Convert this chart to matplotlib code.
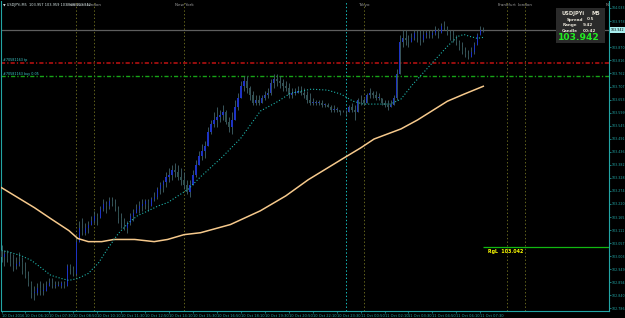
import numpy as np
import pandas as pd
import matplotlib
matplotlib.use("Agg")
import matplotlib.pyplot as plt
from matplotlib.patches import Rectangle

plt.rcParams["font.family"] = ["DejaVu Sans"]
plt.rcParams["lines.scale_dashes"] = False

W, H = 625, 318

SYMBOL = "USDJPYi"
TIMEFRAME = "M5"
HEADER_OHLC = ["103.957", "103.959", "103.938", "103.942"]
SPREAD = "0.5"
RANGE = "9.42"
CANDLE_LEFT = "00:42"

# 10-minute bars, first bar 10 Oct 04:50
FIRST_BAR = "10-10 04:50"
BAR_MIN = 10
first_open = 103.03
highs = [
    103.05, 103.03, 103.03, 103.02, 103.01, 103.00, 103.02, 103.00, 102.98, 102.94,
    102.90, 102.88, 102.89, 102.90, 102.89, 102.90, 102.91, 102.91, 102.90, 102.90,
    102.90, 102.90, 102.97, 102.97, 102.96, 103.08, 103.15, 103.16, 103.14, 103.15,
    103.17, 103.19, 103.18, 103.21, 103.24, 103.23, 103.25, 103.25, 103.24, 103.21,
    103.18, 103.16, 103.15, 103.18, 103.20, 103.22, 103.23, 103.24, 103.24, 103.24,
    103.25, 103.27, 103.29, 103.31, 103.32, 103.35, 103.37, 103.38, 103.39, 103.38,
    103.37, 103.35, 103.32, 103.32, 103.36, 103.40, 103.44, 103.47, 103.48, 103.54,
    103.57, 103.60, 103.62, 103.61, 103.63, 103.61, 103.58, 103.60, 103.65, 103.68,
    103.73, 103.75, 103.75, 103.71, 103.69, 103.67, 103.67, 103.67, 103.69, 103.70,
    103.74, 103.76, 103.76, 103.75, 103.74, 103.73, 103.72, 103.70, 103.70, 103.71,
    103.71, 103.70, 103.69, 103.68, 103.66, 103.65, 103.65, 103.65, 103.64, 103.64,
    103.63, 103.63, 103.62, 103.61, 103.61, 103.61, 103.63, 103.64, 103.63, 103.66,
    103.67, 103.66, 103.68, 103.70, 103.69, 103.69, 103.68, 103.66, 103.65, 103.65,
    103.65, 103.67, 103.78, 103.92, 103.94, 103.94, 103.92, 103.93, 103.94, 103.94,
    103.94, 103.94, 103.94, 103.94, 103.94, 103.96, 103.95, 103.97, 103.98, 103.96,
    103.94, 103.94, 103.92, 103.90, 103.89, 103.87, 103.86, 103.87, 103.89, 103.93,
    103.96, 103.956,
]
lows = [
    102.98, 102.96, 102.98, 102.96, 102.94, 102.95, 102.96, 102.93, 102.91, 102.88,
    102.83, 102.82, 102.84, 102.84, 102.84, 102.86, 102.88, 102.87, 102.87, 102.88,
    102.87, 102.87, 102.89, 102.93, 102.92, 102.92, 103.07, 103.09, 103.09, 103.10,
    103.13, 103.14, 103.13, 103.17, 103.19, 103.18, 103.20, 103.21, 103.19, 103.14,
    103.12, 103.11, 103.10, 103.13, 103.15, 103.18, 103.18, 103.19, 103.20, 103.19,
    103.21, 103.23, 103.24, 103.26, 103.27, 103.29, 103.31, 103.32, 103.33, 103.32,
    103.30, 103.28, 103.26, 103.25, 103.30, 103.33, 103.38, 103.40, 103.41, 103.47,
    103.51, 103.54, 103.54, 103.56, 103.57, 103.55, 103.52, 103.51, 103.58, 103.61,
    103.66, 103.69, 103.68, 103.65, 103.63, 103.63, 103.63, 103.64, 103.65, 103.66,
    103.67, 103.70, 103.71, 103.70, 103.69, 103.69, 103.66, 103.66, 103.67, 103.68,
    103.67, 103.66, 103.64, 103.63, 103.63, 103.63, 103.63, 103.62, 103.62, 103.62,
    103.60, 103.60, 103.60, 103.59, 103.60, 103.59, 103.60, 103.60, 103.57, 103.61,
    103.63, 103.63, 103.65, 103.66, 103.66, 103.65, 103.65, 103.63, 103.62, 103.61,
    103.62, 103.63, 103.65, 103.76, 103.87, 103.88, 103.87, 103.89, 103.90, 103.89,
    103.88, 103.89, 103.91, 103.91, 103.91, 103.92, 103.91, 103.94, 103.94, 103.92,
    103.90, 103.89, 103.88, 103.86, 103.84, 103.83, 103.82, 103.83, 103.84, 103.89,
    103.92, 103.935,
]
closes = [
    103.00, 103.01, 102.99, 102.97, 102.96, 102.97, 102.98, 102.94, 102.92, 102.89,
    102.85, 102.85, 102.87, 102.86, 102.86, 102.88, 102.89, 102.88, 102.88, 102.88,
    102.89, 102.88, 102.96, 102.95, 102.93, 103.06, 103.12, 103.10, 103.12, 103.13,
    103.15, 103.17, 103.16, 103.20, 103.22, 103.21, 103.23, 103.22, 103.20, 103.16,
    103.14, 103.12, 103.14, 103.17, 103.18, 103.20, 103.21, 103.22, 103.23, 103.21,
    103.24, 103.25, 103.28, 103.30, 103.31, 103.33, 103.34, 103.36, 103.35, 103.33,
    103.32, 103.30, 103.27, 103.30, 103.34, 103.38, 103.42, 103.44, 103.46, 103.52,
    103.55, 103.57, 103.58, 103.59, 103.60, 103.56, 103.54, 103.57, 103.62, 103.66,
    103.71, 103.73, 103.70, 103.67, 103.64, 103.65, 103.64, 103.66, 103.67, 103.68,
    103.72, 103.74, 103.73, 103.72, 103.71, 103.70, 103.67, 103.68, 103.68, 103.69,
    103.68, 103.67, 103.65, 103.64, 103.64, 103.64, 103.64, 103.63, 103.63, 103.62,
    103.61, 103.61, 103.61, 103.60, 103.60, 103.60, 103.62, 103.61, 103.60, 103.65,
    103.65, 103.64, 103.67, 103.68, 103.67, 103.66, 103.66, 103.64, 103.63, 103.62,
    103.63, 103.66, 103.76, 103.89, 103.91, 103.90, 103.89, 103.91, 103.93, 103.91,
    103.90, 103.92, 103.93, 103.92, 103.93, 103.94, 103.93, 103.96, 103.95, 103.93,
    103.92, 103.90, 103.89, 103.87, 103.85, 103.84, 103.83, 103.85, 103.88, 103.92,
    103.94, 103.942,
]

# dotted moving average (read at knots)
dot_t = ["10-10 04:50", "10-10 05:20", "10-10 05:55", "10-10 06:30", "10-10 07:05",
         "10-10 07:35", "10-10 08:10", "10-10 08:35", "10-10 09:05", "10-10 09:40",
         "10-10 10:15", "10-10 10:45", "10-10 11:20", "10-10 11:55", "10-10 12:25",
         "10-10 13:00", "10-10 13:35", "10-10 14:05", "10-10 14:40", "10-10 15:15",
         "10-10 15:55", "10-10 17:05", "10-10 18:10", "10-10 19:15", "10-10 20:15",
         "10-10 20:55", "10-10 22:05", "10-10 23:00", "10-10 23:45", "10-11 00:25",
         "10-11 01:00", "10-11 01:45", "10-11 02:30", "10-11 03:05", "10-11 03:45",
         "10-11 04:45", "10-11 05:40", "10-11 06:15", "10-11 06:35", "10-11 06:55",
         "10-11 07:20", "10-11 07:40"]
dot_v = [103.026, 103.018, 103.005, 102.985, 102.952, 102.923, 102.910, 102.902,
         102.910, 102.931, 102.976, 103.034, 103.096, 103.142, 103.171, 103.191,
         103.212, 103.225, 103.253, 103.282, 103.332, 103.411, 103.493, 103.605,
         103.646, 103.679, 103.696, 103.692, 103.675, 103.646, 103.634, 103.634,
         103.634, 103.655, 103.717, 103.799, 103.874, 103.915, 103.923, 103.915,
         103.907, 103.911]

# slow moving average (orange)
slow_t = ["10-10 04:50", "10-10 06:40", "10-10 07:35", "10-10 08:35", "10-10 09:05",
          "10-10 09:40", "10-10 10:25", "10-10 11:05", "10-10 12:15", "10-10 13:20",
          "10-10 14:05", "10-10 15:00", "10-10 15:55", "10-10 17:35", "10-10 19:15",
          "10-10 20:40", "10-10 21:55", "10-10 23:55", "10-11 00:50", "10-11 01:35",
          "10-11 03:05", "10-11 04:00", "10-11 05:40", "10-11 06:35", "10-11 07:40"]
slow_v = [103.287, 103.204, 103.158, 103.109, 103.076, 103.063, 103.063, 103.072,
          103.072, 103.063, 103.072, 103.092, 103.100, 103.134, 103.191, 103.253,
          103.320, 103.411, 103.452, 103.489, 103.531, 103.568, 103.646, 103.675,
          103.708]

bid = 103.942
order_tp = 103.805
order_open = 103.751
rgl_level = 103.042
order_tp_label = "#70581163 tp"
order_open_label = "#70581163 buy 0.05"

session_names = ["Frankfurt", "London", "New York", "Tokyo", "Frankfurt", "London", "New York"]
session_times = ["10-10 09:00", "10-10 10:00", "10-10 15:00", "10-11 01:00",
                 "10-11 09:00", "10-11 10:00", "10-11 15:00"]
day_break = "10-11 00:00"

tick_times = ["10-10 04:50", "10-10 06:10", "10-10 07:30", "10-10 08:50", "10-10 10:10",
              "10-10 11:30", "10-10 12:50", "10-10 14:10", "10-10 15:30", "10-10 16:50",
              "10-10 18:10", "10-10 19:30", "10-10 20:50", "10-10 22:10", "10-10 23:30",
              "10-11 00:50", "10-11 02:10", "10-11 03:30", "10-11 04:50", "10-11 06:10",
              "10-11 07:30"]
tick_labels = ["10 Oct 2016", "10 Oct 06:10", "10 Oct 07:30", "10 Oct 08:50", "10 Oct 10:10",
               "10 Oct 11:30", "10 Oct 12:50", "10 Oct 14:10", "10 Oct 15:30", "10 Oct 16:50",
               "10 Oct 18:10", "10 Oct 19:30", "10 Oct 20:50", "10 Oct 22:10", "10 Oct 23:30",
               "11 Oct 00:50", "11 Oct 02:10", "11 Oct 03:30", "11 Oct 04:50", "11 Oct 06:10",
               "11 Oct 07:30"]
price_ticks = [102.786, 102.840, 102.894, 102.949, 103.003, 103.057, 103.111, 103.165,
               103.220, 103.274, 103.328, 103.382, 103.436, 103.491, 103.545, 103.599,
               103.653, 103.707, 103.762, 103.816, 103.870, 103.978, 104.033]

AXIS = "#22a4a4"
T0 = pd.Timestamp("2016-10-10 00:00")


def mins(s):
    return (pd.Timestamp("2016-" + s) - T0).total_seconds() / 60.0


def fpx(x, y):
    return x / W, 1 - y / H


fig = plt.figure(figsize=(W / 100, H / 100), dpi=100, facecolor="black")
ax = fig.add_axes([1.5 / W, 7 / H, 607.5 / W, 310 / H], facecolor="black")
ax.set_xlim(295, 2320)
ax.set_ylim(102.775, 104.062)

# candles
c = np.array(closes)
o = np.r_[first_open, c[:-1]]
hi = np.maximum(np.array(highs), np.maximum(o, c))
lo = np.minimum(np.array(lows), np.minimum(o, c))
t = mins(FIRST_BAR) + BAR_MIN * np.arange(len(c))
up = c >= o
ax.vlines(t, lo, hi, color="#41636a", lw=0.6, zorder=3)
body = np.maximum(np.abs(c - o), 0.003)
ax.bar(t[~up], body[~up], bottom=np.minimum(o, c)[~up], width=4,
       color="#2f4f4f", lw=0, zorder=4)
ax.bar(t[up], body[up], bottom=np.minimum(o, c)[up], width=4,
       color="#1d33c4", lw=0, zorder=4)

# moving averages
ax.plot([mins(s) for s in slow_t], slow_v, color="#f6c98c", lw=1.1, zorder=5,
        solid_joinstyle="round")
ax.plot([mins(s) for s in dot_t], dot_v, color="#1fb5ad", lw=0.8,
        ls=(0, (0.8, 1.4)), zorder=5)

# horizontal lines
ax.axhline(bid, color="#5e5e5e", lw=0.9, zorder=2)
ax.axhline(order_tp, color="#c01212", lw=1.1, ls=(0, (3, 1.5, 0.9, 1.5)), zorder=2)
ax.axhline(order_open, color="#17a317", lw=1.0, ls=(0, (3, 1.5, 0.9, 1.5)), zorder=2)
ax.hlines(rgl_level, mins("10-11 07:40"), 2320, color="#11b811", lw=0.9, zorder=2)

# session and day lines
xt = ax.get_xaxis_transform()
for name, s in zip(session_names, session_times):
    ax.axvline(mins(s), color="#66661e", lw=0.7, ls=(0, (1, 1.6)), zorder=1)
    ax.text(mins(s), 0.986, name, transform=xt, ha="center", va="center",
            fontsize=3.0, color="#9a9a9a", clip_on=True, zorder=6)
ax.axvline(mins(day_break), color="#15c4c4", lw=0.7, ls=(0, (1, 1.6)), zorder=1)

# axes styling
for side in ["left", "bottom", "right"]:
    ax.spines[side].set_color(AXIS)
    ax.spines[side].set_linewidth(0.8)
ax.spines["top"].set_visible(False)
ax.set_xticks([mins(s) for s in tick_times])
ax.set_xticklabels(tick_labels)
for lbl in ax.get_xticklabels():
    lbl.set_ha("left")
ax.yaxis.tick_right()
ax.set_yticks(price_ticks)
ax.set_yticklabels([f"{p:.3f}" for p in price_ticks])
ax.tick_params(axis="x", colors=AXIS, length=1.5, width=0.5, labelsize=2.6, pad=0.6)
ax.tick_params(axis="y", colors=AXIS, length=1.2, width=0.5, labelsize=2.3, pad=0.5)

# header and order labels
fig.text(*fpx(3, 5), "\u25bc " + SYMBOL + "," + TIMEFRAME + "  " + " ".join(HEADER_OHLC),
         fontsize=2.5, color="#d8e8e8", va="center")
fig.text(*fpx(3, 60.5), order_tp_label, fontsize=2.4, color="#3cc8c8", va="center")
fig.text(*fpx(3, 73.5), order_open_label, fontsize=2.4, color="#3cc8c8", va="center")
fig.text(*fpx(488, 251), f"RgL  {rgl_level:.3f}", fontsize=3.4, color="#ffff00",
         fontweight="bold", va="center")

# current price tag on the axis
fig.text(*fpx(610.5, 30), f"{bid:.3f}", fontsize=2.3, color="black", va="center",
         bbox=dict(boxstyle="square,pad=0.25", fc="#a8eeee", ec="none"))

# info box
x0, y0 = fpx(556, 43)
fig.patches.append(Rectangle((x0, y0), 49 / W, 35 / H, transform=fig.transFigure,
                             fc="#2a2a2a", ec="none", zorder=10))
info = [(562, 13.5, SYMBOL, 3.7), (592, 13.5, TIMEFRAME, 3.7),
        (567, 19.5, "Spread", 3.0), (587, 19.5, SPREAD, 3.0),
        (563, 25, "Range", 3.0), (583, 25, RANGE, 3.0),
        (562, 30.5, "Candle", 3.0), (583, 30.5, CANDLE_LEFT, 3.0)]
for x, y, s, fs in info:
    fig.text(*fpx(x, y), s, fontsize=fs, color="#e4e0d4", fontweight="bold",
             va="center", zorder=11)
fig.text(*fpx(579, 37.5), f"{bid:.3f}", fontsize=6.6, color="#22ee22",
         fontweight="bold", ha="center", va="center", zorder=11)

fig.savefig("out.png", dpi=100, facecolor="black")
